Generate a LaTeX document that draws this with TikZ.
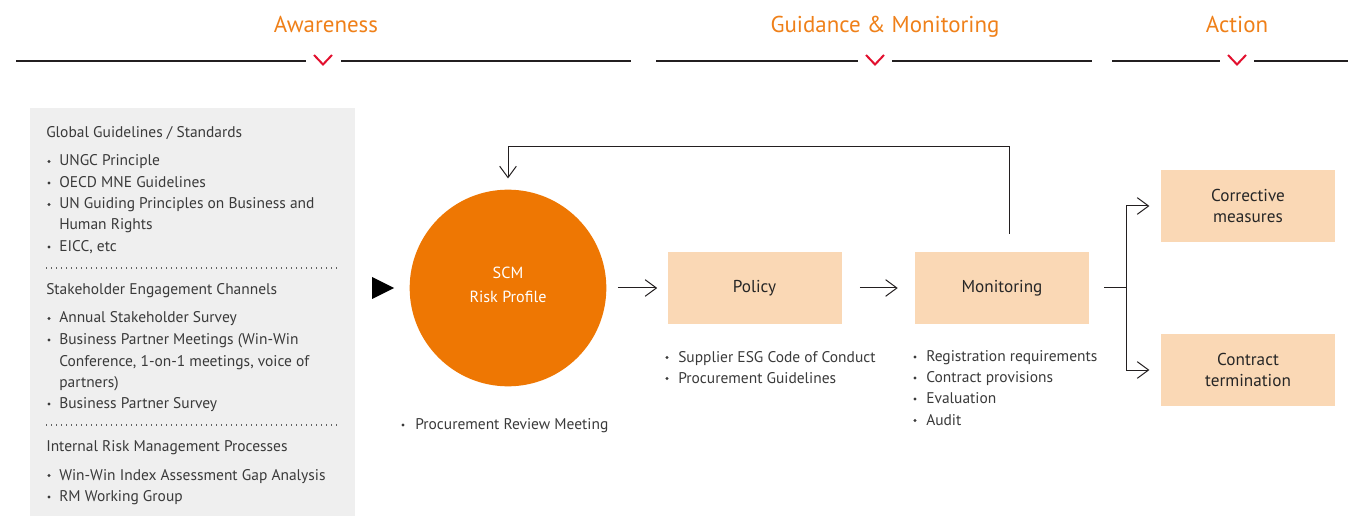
\documentclass[tikz,border=0pt]{standalone}
\usepackage{fontspec}
\setmainfont{PT Sans}
\usetikzlibrary{arrows.meta,positioning,calc}
\definecolor{colorHead}{HTML}{EF8019}
\definecolor{colorChev}{HTML}{E2102E}
\definecolor{colorRule}{HTML}{231F20}
\definecolor{colorPanel}{HTML}{EFEFEF}
\definecolor{colorRisk}{HTML}{EE7703}
\definecolor{colorBox}{HTML}{FAD8B5}
\definecolor{colorTxt}{HTML}{3A3A3A}
\tikzset{
   every path/.style={>={Straight Barb[length=8.5pt,width=12.5pt,line width=0.75pt]}},
   head/.style={anchor=base, font=\fontsize{17.2}{20}\selectfont, text=colorHead},
   rule/.style={draw=colorRule, line width=1pt},
   chev/.style={draw=colorChev, line width=1.5pt},
   txt/.style={anchor=base west, inner sep=0pt, text=colorTxt, font=\fontsize{11.6}{13}\selectfont},
   dot/.style={circle, fill=colorTxt, inner sep=0pt, minimum size=2.6pt},
   sep/.style={draw=colorTxt!80, line width=0.9pt, dash pattern=on 0.9pt off 2.85pt},
   stepbox/.style={fill=colorBox, minimum width=130.5pt, minimum height=53.5pt,
      align=center, text=black!85, font=\fontsize{12.9}{15.5}\selectfont},
   flow/.style={->, draw=colorRule, line width=0.75pt},
   link/.style={draw=colorRule, line width=0.75pt},
}
\begin{document}
\begin{tikzpicture}[x=0.75pt, y=-0.75pt]

\useasboundingbox (0,0) rectangle (1348,516);

% =========================================================
% Headers
% =========================================================

\node[head] (hAware) at (326,32.5) {Awareness};
\node[head] (hGuide) at (885,32.5) {Guidance \& Monitoring};
\node[head] (hAct) at (1237,32.5) {Action};

\draw[rule] (16,61) -- (306,61);
\draw[rule] (341,61) -- (631,61);
\draw[chev] (314,55) -- (323,64.5) -- (332,55);

\draw[rule] (656,61) -- (858,61);
\draw[rule] (892,61) -- (1092,61);
\draw[chev] (866,55) -- (875,64.5) -- (884,55);

\draw[rule] (1112,61) -- (1220,61);
\draw[rule] (1254,61) -- (1348,61);
\draw[chev] (1228,55) -- (1237,64.5) -- (1246,55);


% =========================================================
% Inputs
% =========================================================

\fill[colorPanel] (30,108) rectangle (355,516);

\node[txt] (gHead) at (46,137.5) {Global Guidelines / Standards};
\node[txt] (g1) at (59,166) {UNGC Principle};
\node[txt] (g2) at (59,187.5) {OECD MNE Guidelines};
\node[txt] (g3) at (59,209) {UN Guiding Principles on Business and};
\node[txt] (g3b) at (59,230) {Human Rights};
\node[txt] (g4) at (59,251.5) {EICC, etc};
\foreach \y [count=\i] in {166,187.5,209,251.5}
   \node[dot] (gb\i) at (49,\y-4.5) {};

\draw[sep] (46,268) -- (340,268);

\node[txt] (sHead) at (46,294.5) {Stakeholder Engagement Channels};
\node[txt] (s1) at (59,323) {Annual Stakeholder Survey};
\node[txt] (s2) at (59,344.5) {Business Partner Meetings (Win-Win};
\node[txt] (s2b) at (59,366) {Conference, 1-on-1 meetings, voice of};
\node[txt] (s2c) at (59,387.5) {partners)};
\node[txt] (s3) at (59,408.5) {Business Partner Survey};
\foreach \y [count=\i] in {323,344.5,408.5}
   \node[dot] (sb\i) at (49,\y-4.5) {};

\draw[sep] (46,425) -- (340,425);

\node[txt] (iHead) at (46,451.5) {Internal Risk Management Processes};
\node[txt] (i1) at (59,480) {Win-Win Index Assessment Gap Analysis};
\node[txt] (i2) at (59,501.5) {RM Working Group};
\foreach \y [count=\i] in {480,501.5}
   \node[dot] (ib\i) at (49,\y-4.5) {};

% pointer into the risk profile
\coordinate (tri) at (394,288);
\fill[black] (tri) -- ++(-22,-11) -- ++(0,22) -- cycle;


% =========================================================
% Risk profile
% =========================================================

\node[circle, fill=colorRisk, minimum size=147.5pt, inner sep=0pt] (risk) at (508,288) {};
\node[align=center, text=white, font=\fontsize{12.1}{18}\selectfont] (riskLbl) at (508,284.5) {SCM\\Risk Profile};

\node[txt] (r1) at (415,429.5) {Procurement Review Meeting};
\node[dot] (rb1) at (403,425) {};


% =========================================================
% Guidance & monitoring
% =========================================================

\node[stepbox] (policy) at (754.5,288) {Policy};
\node[stepbox] (monitor) at (1002,288) {Monitoring};

\node[txt] (p1) at (678,362) {Supplier ESG Code of Conduct};
\node[txt] (p2) at (678,383) {Procurement Guidelines};
\foreach \y [count=\i] in {362,383}
   \node[dot] (pb\i) at (667,\y-4.5) {};

\node[txt] (m1) at (926,361.5) {Registration requirements};
\node[txt] (m2) at (926,382.5) {Contract provisions};
\node[txt] (m3) at (926,403.5) {Evaluation};
\node[txt] (m4) at (926,425) {Audit};
\foreach \y [count=\i] in {361.5,382.5,403.5,425}
   \node[dot] (mb\i) at (915,\y-4.5) {};


% =========================================================
% Action
% =========================================================

\node[stepbox] (corr) at (1248,206) {Corrective\\measures};
\node[stepbox] (term) at (1248,370) {Contract\\termination};


% =========================================================
% Connectors
% =========================================================

\draw[flow, shorten <=8.5pt, shorten >=7.5pt] (risk) -- (policy);
\draw[flow, shorten <=13.5pt, shorten >=12.75pt] (policy) -- (monitor);

% feedback loop
\coordinate (fbStart) at (1009,234);
\coordinate (fbTop) at (1009,147);
\draw[flow, shorten >=8.25pt] (fbStart) -- (fbTop) -| (risk.north);

% branch to actions
\coordinate (split) at (1126,288);
\draw[link, shorten <=11.25pt] (monitor) -- (split);
\draw[flow, shorten >=8.5pt] (split) |- (corr.west);
\draw[flow, shorten >=8.5pt] (split) |- (term.west);

\end{tikzpicture}
\end{document}
